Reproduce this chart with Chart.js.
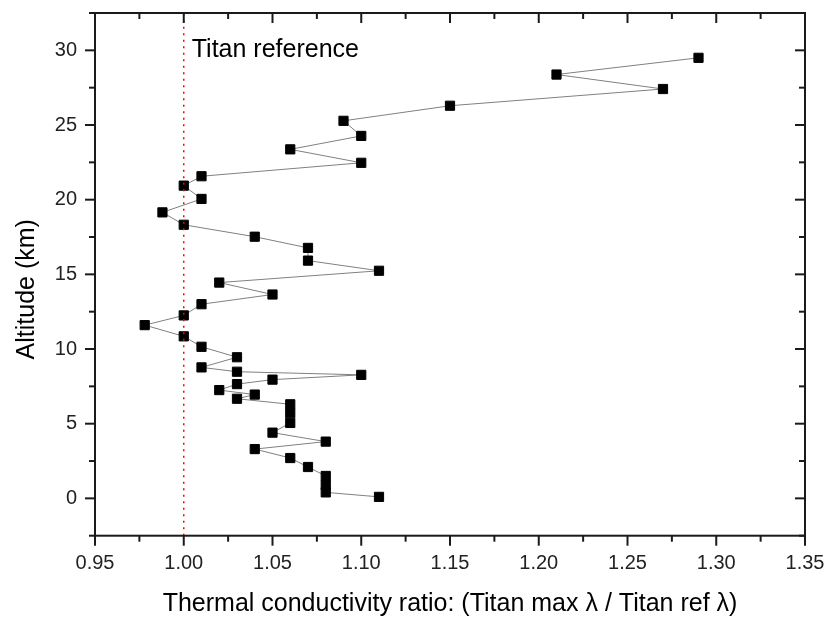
<!DOCTYPE html>
<html>
<head>
<meta charset="utf-8">
<script src="https://cdn.jsdelivr.net/npm/chart.js@4.4.1/dist/chart.umd.min.js"></script>
<style>
  html, body { margin: 0; padding: 0; background: #fff; }
  #wrap { width: 827px; height: 619px; }
</style>
</head>
<body>
<div id="wrap"><canvas id="chart"></canvas></div>
<script>
// Profile, bottom to top
const altitude = [0.1, 0.4, 0.9, 1.5, 2.1, 2.7, 3.3, 3.8, 4.4, 5.05, 5.7, 6.3,
                  6.67, 6.95, 7.25, 7.65, 7.95, 8.27, 8.48, 8.77, 9.45, 10.15,
                  10.85, 11.6, 12.25, 13.0, 13.65, 14.45, 15.24, 15.92, 16.77,
                  17.52, 18.32, 19.15, 20.05, 20.94, 21.57, 22.47, 23.37, 24.27,
                  25.28, 26.29, 27.41, 28.38, 29.5];
const ratio = [1.11, 1.08, 1.08, 1.08, 1.07, 1.06, 1.04, 1.08, 1.05, 1.06, 1.06, 1.06,
               1.03, 1.04, 1.02, 1.03, 1.05, 1.10, 1.03, 1.01, 1.03, 1.01,
               1.00, 0.978, 1.00, 1.01, 1.05, 1.02, 1.11, 1.07, 1.07,
               1.04, 1.00, 0.988, 1.01, 1.00, 1.01, 1.10, 1.06, 1.10,
               1.09, 1.15, 1.27, 1.21, 1.29];

// Titan reference line (ratio = 1)
const refX = [1.00, 1.00];
const refY = [-2.5, 32.5];
const refLabel = 'Titan reference';
const refLabelPos = [1.0045, 30.0];

const xTicks = [0.95, 1.00, 1.05, 1.10, 1.15, 1.20, 1.25, 1.30, 1.35];
const xMinorTicks = [0.975, 1.025, 1.075, 1.125, 1.175, 1.225, 1.275, 1.325];
const yTicks = [0, 5, 10, 15, 20, 25, 30];
const yMinorTicks = [-2.5, 2.5, 7.5, 12.5, 17.5, 22.5, 27.5, 32.5];

const xTitle = 'Thermal conductivity ratio: (Titan max \u03bb / Titan ref \u03bb)';
const yTitle = 'Altitude (km)';

const FONT = '"Liberation Sans", Arial, sans-serif';

// keep the plot box where the original has it: no extra room for edge labels
const noEdgePadding = s => {
    s.paddingTop = 0;
    s.paddingBottom = 0;
    s.paddingLeft = 0;
    s.paddingRight = 0;
};

const frameAndTicks = {
    id: 'frameAndTicks',
    afterDatasetsDraw(chart) {
        const { ctx, chartArea: a, scales: { x, y } } = chart;
        ctx.save();
        ctx.strokeStyle = '#1a1a1a';
        ctx.lineWidth = 2;
        ctx.strokeRect(a.left, a.top, a.right - a.left, a.bottom - a.top);

        const seg = (x1, y1, x2, y2) => {
            ctx.beginPath();
            ctx.moveTo(x1, y1);
            ctx.lineTo(x2, y2);
            ctx.stroke();
        };
        // bottom/left ticks outward, top/right inward
        xTicks.forEach(v => {
            const px = x.getPixelForValue(v);
            seg(px, a.bottom, px, a.bottom + 10);
            seg(px, a.top, px, a.top + 10);
        });
        xMinorTicks.forEach(v => {
            const px = x.getPixelForValue(v);
            seg(px, a.bottom, px, a.bottom + 6);
            seg(px, a.top, px, a.top + 6);
        });
        yTicks.forEach(v => {
            const py = y.getPixelForValue(v);
            seg(a.left - 10, py, a.left, py);
            seg(a.right - 10, py, a.right, py);
        });
        yMinorTicks.forEach(v => {
            const py = y.getPixelForValue(v);
            seg(a.left - 6, py, a.left, py);
            seg(a.right - 6, py, a.right, py);
        });

        ctx.fillStyle = '#000';
        ctx.font = '25px ' + FONT;
        ctx.textBaseline = 'middle';
        ctx.textAlign = 'left';
        ctx.fillText(refLabel, x.getPixelForValue(refLabelPos[0]), y.getPixelForValue(refLabelPos[1]));

        // y axis title sits a little below the axis centre in the original
        ctx.translate(27, y.getPixelForValue(14));
        ctx.rotate(-Math.PI / 2);
        ctx.textAlign = 'center';
        ctx.fillText(yTitle, 0, 0);
        ctx.restore();
    }
};

const ctx = document.getElementById('chart').getContext('2d');
new Chart(ctx, {
    type: 'scatter',
    data: {
        datasets: [
            {
                label: 'ref',
                data: refX.map((v, i) => ({ x: v, y: refY[i] })),
                showLine: true,
                borderColor: '#ff0000',
                borderWidth: 1.5,
                borderDash: [2, 4.5],
                pointRadius: 0
            },
            {
                label: 'ratio',
                data: ratio.map((v, i) => ({ x: v, y: altitude[i] })),
                showLine: true,
                borderColor: '#808080',
                borderWidth: 1,
                pointStyle: 'rect',
                pointRadius: 6.5,
                pointBackgroundColor: '#000',
                pointBorderColor: '#000',
                pointBorderWidth: 1
            }
        ]
    },
    options: {
        responsive: true,
        maintainAspectRatio: false,
        animation: false,
        layout: { padding: { top: 13, right: 22, left: 0, bottom: 0 } },
        plugins: {
            legend: { display: false },
            tooltip: { enabled: false }
        },
        scales: {
            x: {
                type: 'linear',
                min: 0.95,
                max: 1.35,
                grid: { display: false, drawTicks: false },
                border: { display: false },
                afterBuildTicks: s => { s.ticks = xTicks.map(v => ({ value: v })); },
                afterFit: s => { s.height = 83.3; noEdgePadding(s); },
                ticks: {
                    padding: 16,
                    color: '#222',
                    font: { family: FONT, size: 20 },
                    callback: v => v.toFixed(2)
                },
                title: {
                    display: true,
                    text: xTitle,
                    color: '#000',
                    font: { family: FONT, size: 25 },
                    padding: { top: 0, bottom: 0 }
                }
            },
            y: {
                type: 'linear',
                min: -2.5,
                max: 32.5,
                grid: { display: false, drawTicks: false },
                border: { display: false },
                afterBuildTicks: s => { s.ticks = yTicks.map(v => ({ value: v })); },
                afterFit: s => { s.width = 95; noEdgePadding(s); },
                ticks: {
                    padding: 18,
                    color: '#222',
                    font: { family: FONT, size: 20 },
                    callback: v => String(v)
                }
            }
        }
    },
    plugins: [frameAndTicks]
});
</script>
</body>
</html>
